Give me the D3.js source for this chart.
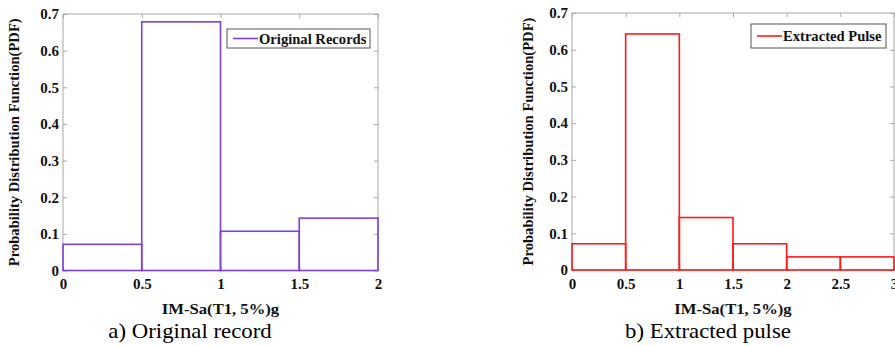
<!DOCTYPE html>
<html>
<head>
<meta charset="utf-8">
<script src="https://cdn.jsdelivr.net/npm/d3@7"></script>
<style>
  body { margin: 0; background: #fff; }
  text { font-family: "Liberation Serif", "Times New Roman", serif; }
  .tick text { font-weight: bold; font-size: 15px; fill: #111; }
  .ttl { font-weight: bold; font-size: 14.6px; fill: #111; }
  .cap { font-size: 20px; fill: #000; }
</style>
</head>
<body>
<svg id="fig" width="895" height="346"></svg>
<script>
// bin edges and PDF values
var binsA = [0, 0.5, 1, 1.5, 2];
var pdfA = [0.0714, 0.6786, 0.1071, 0.1429];
var binsB = [0, 0.5, 1, 1.5, 2, 2.5, 3];
var pdfB = [0.0714, 0.6429, 0.1429, 0.0714, 0.0357, 0.0357];
var yTicks = [0, 0.1, 0.2, 0.3, 0.4, 0.5, 0.6, 0.7];
var xTicksA = [0, 0.5, 1, 1.5, 2];
var xTicksB = [0, 0.5, 1, 1.5, 2, 2.5, 3];

var svg = d3.select("#fig");
var sx = 1.14; // the source figure is a bit wider than tall

function wideText(g, x, y, cls, anchor, txt, s) {
  return g.append("text").attr("class", cls)
    .attr("transform", "translate(" + x + "," + y + ") scale(" + s + ",1)")
    .attr("text-anchor", anchor).text(txt);
}

function panel(opt) {
  var x = d3.scaleLinear().domain([opt.bins[0], opt.bins[opt.bins.length - 1]]).range([opt.left, opt.right]);
  var y = d3.scaleLinear().domain([0, 0.7]).range([opt.bottom, opt.top]);
  var g = svg.append("g");
  var fmt = function(d) { return d3.format("~g")(d); };

  // box
  g.append("rect")
    .attr("x", opt.left).attr("y", opt.top)
    .attr("width", opt.right - opt.left).attr("height", opt.bottom - opt.top)
    .attr("fill", "none").attr("stroke", "#a8a8a8").attr("stroke-width", 1);

  g.append("g").attr("transform", "translate(0," + opt.bottom + ")")
    .call(d3.axisBottom(x).tickValues(opt.xticks).tickFormat(fmt).tickSize(-4).tickPadding(8));
  g.append("g").attr("transform", "translate(" + opt.left + ",0)")
    .call(d3.axisLeft(y).tickValues(yTicks).tickFormat(fmt).tickSize(-4).tickPadding(4));
  g.append("g").attr("transform", "translate(0," + opt.top + ")")
    .call(d3.axisTop(x).tickValues(opt.xticks).tickFormat("").tickSize(-4));
  g.append("g").attr("transform", "translate(" + opt.right + ",0)")
    .call(d3.axisRight(y).tickValues(yTicks).tickFormat("").tickSize(-4));
  g.selectAll(".domain").remove();
  g.selectAll(".tick line").attr("stroke", "#a8a8a8");

  // histogram bars
  g.selectAll("rect.bar").data(opt.vals).enter().append("rect")
    .attr("class", "bar")
    .attr("x", function(d, i) { return x(opt.bins[i]); })
    .attr("y", function(d) { return y(d); })
    .attr("width", function(d, i) { return x(opt.bins[i + 1]) - x(opt.bins[i]); })
    .attr("height", function(d) { return opt.bottom - y(d); })
    .attr("fill", "none").attr("stroke", opt.color).attr("stroke-width", 1.6);

  // legend
  var lg = g.append("g");
  lg.append("rect").attr("x", opt.lx).attr("y", opt.ly)
    .attr("width", opt.lw).attr("height", opt.lh)
    .attr("fill", "#fff").attr("stroke", "#555").attr("stroke-width", 1);
  lg.append("line").attr("x1", opt.lx + 6).attr("x2", opt.lx + 31)
    .attr("y1", opt.ly + opt.lh / 2).attr("y2", opt.ly + opt.lh / 2)
    .attr("stroke", opt.color).attr("stroke-width", 1.6);
  wideText(lg, opt.lx + 32, opt.ly + opt.lh / 2 + 5, "ttl", "start", opt.label, 1);

  // axis titles
  g.append("text").attr("class", "ttl")
    .attr("transform", "translate(" + opt.ytx + "," + ((opt.top + opt.bottom) / 2) + ") rotate(-90)")
    .attr("text-anchor", "middle").attr("dy", "0.35em")
    .text("Probability Distribution Function(PDF)");
  wideText(g, (opt.left + opt.right) / 2, 314, "ttl", "middle", "IM-Sa(T1, 5%)g", sx);
  wideText(g, opt.capx, 338, "cap", "middle", opt.caption, sx);
}

panel({
  bins: binsA, vals: pdfA, xticks: xTicksA, color: "#7f3fdc",
  left: 63, right: 378, top: 14, bottom: 270.5,
  lx: 227, ly: 29, lw: 143, lh: 19, label: "Original Records",
  ytx: 14, capx: 190, caption: "a) Original record"
});

panel({
  bins: binsB, vals: pdfB, xticks: xTicksB, color: "#ff1a1a",
  left: 572, right: 894, top: 13, bottom: 270,
  lx: 751, ly: 24, lw: 135, lh: 24, label: "Extracted Pulse",
  ytx: 528, capx: 708, caption: "b) Extracted pulse"
});
</script>
</body>
</html>
